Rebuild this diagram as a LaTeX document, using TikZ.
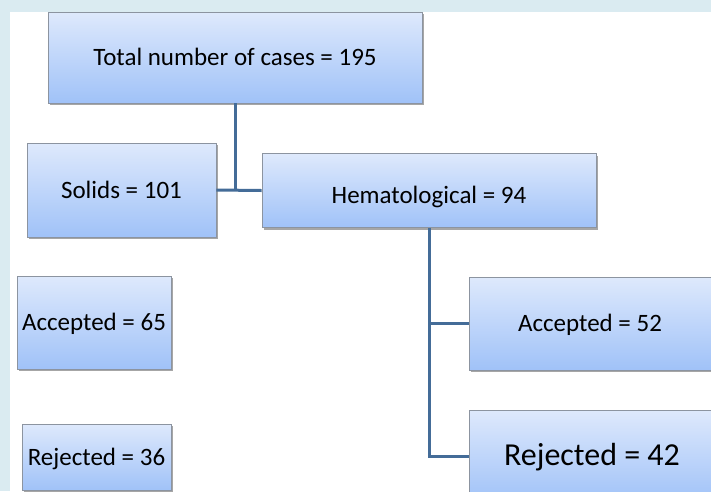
\documentclass[tikz,border=0pt]{standalone}
\usepackage{fontspec}
\setmainfont{Carlito}
\usetikzlibrary{shadows}
\definecolor{bgblue}{RGB}{218,235,241}
\definecolor{boxtop}{RGB}{222,233,252}
\definecolor{boxbot}{RGB}{160,194,248}
\definecolor{boxline}{RGB}{140,148,160}
\definecolor{linkblue}{RGB}{68,108,152}
\tikzset{
  flowbox/.style={draw=boxline, line width=0.8pt, top color=boxtop, bottom color=boxbot,
    inner sep=0pt, align=center, font=\fontsize{25}{30}\selectfont,
    text height=16pt, text depth=0pt,
    drop shadow={shadow xshift=1.5pt, shadow yshift=-2pt, fill=black, opacity=0.35}},
  link/.style={draw=linkblue, line width=3pt}
}
\begin{document}
\begin{tikzpicture}[x=1pt,y=-1pt]
\useasboundingbox (0,0) rectangle (711,491);
\fill[white] (0,0) rectangle (711,491);
\node[flowbox, minimum width=374pt, minimum height=91pt] (total) at (235,57.5) {Total number of cases = 195};
\node[flowbox, minimum width=189pt, minimum height=94pt] (solids) at (121.5,190) {Solids = 101};
\node[flowbox, minimum width=334pt, minimum height=74pt, text height=26pt] (hemat) at (429,190.5) {Hematological = 94};
\node[flowbox, minimum width=154pt, minimum height=93pt] (acc65) at (94,322.5) {Accepted = 65};
\node[flowbox, minimum width=149pt, minimum height=66pt] (rej36) at (96.5,457) {Rejected = 36};
\node[flowbox, minimum width=242pt, minimum height=93pt] (acc52) at (590,323.5) {Accepted = 52};
\node[flowbox, minimum width=246pt, minimum height=92pt, font=\fontsize{32}{38}\selectfont, text height=18pt] (rej42) at (592,456) {Rejected = 42};
\coordinate (j1) at (total.south |- solids.east);
\coordinate (j2) at (hemat.south |- acc52.west);
\coordinate (j3) at (hemat.south |- rej42.west);
\draw[link] (total.south) -- (j1);
\draw[link] (solids.east) -- (hemat.west);
\draw[link] (hemat.south) -- (j3) -- (rej42.west);
\draw[link] (j2) -- (acc52.west);
\fill[bgblue] (0,0) rectangle (711,12);
\fill[bgblue] (0,0) rectangle (10,491);
\end{tikzpicture}
\end{document}
